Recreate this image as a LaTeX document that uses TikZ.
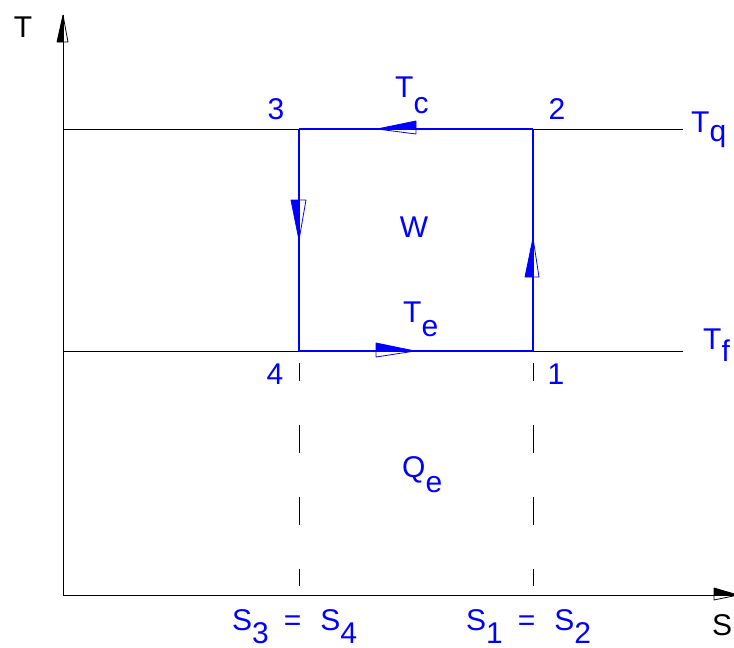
\documentclass[tikz,border=0pt]{standalone}
\usepackage{fontspec}
\setmainfont{Liberation Sans}
\definecolor{cyc}{RGB}{0,0,255}
\newcommand\lowsub[2][14pt]{\raisebox{-#1}{#2}}
\begin{document}
\begin{tikzpicture}[x=1pt,y=-1pt,
  lbl/.style={inner sep=0pt, font=\fontsize{30}{30}\selectfont, text=cyc},
  axlbl/.style={inner sep=0pt, font=\fontsize{30}{30}\selectfont, text=black},
  ax/.style={draw=black, line width=0.9pt},
  cycleln/.style={color=cyc, line width=1.15pt},
  dashln/.style={draw=black, line width=0.9pt, dash pattern=on 28pt off 44pt, dash phase=10pt},
  headline/.style={line width=0.8pt, line join=bevel}]
\useasboundingbox (0,0) rectangle (734,648);
% coordinates
\coordinate (O) at (63,595);
\coordinate (Ytip) at (63,15);
\coordinate (Xtip) at (736,595);
\coordinate (p1) at (533,351);
\coordinate (p2) at (533,129);
\coordinate (p3) at (299,129);
\coordinate (p4) at (299,351);
\coordinate (lq) at (63,129);
\coordinate (rq) at (683,129);
\coordinate (lf) at (63,351);
\coordinate (rf) at (683,351);
\coordinate (d4) at (299,363);
\coordinate (d4e) at (299,586);
\coordinate (d1) at (533,363);
\coordinate (d1e) at (533,586);
% isotherm extensions
\draw[ax] (lq) -- (p3);
\draw[ax] (p2) -- (rq);
\draw[ax] (lf) -- (p4);
\draw[ax] (p1) -- (rf);
% dashed isentropes
\draw[dashln] (d4) -- (d4e);
\draw[dashln] (d1) -- (d1e);
% axes
\draw[ax] (Ytip) -- (O) -- (Xtip);
% cycle
\draw[cycleln] (p1) -- (p2);
\draw[cycleln] (p2) -- (p3);
\draw[cycleln] (p3) -- (p4);
\draw[cycleln] (p4) -- (p1);
% axis arrowheads
\fill[black] (63,15) -- (57,42) -- (63,42) -- cycle;
\draw[black, headline] (63,15) -- (57,42) -- (68,42) -- cycle;
\fill[black] (738,595) -- (714,588) -- (714,595) -- cycle;
\draw[black, headline] (738,595) -- (714,588) -- (714,600) -- cycle;
% cycle arrowheads
\fill[cyc] (377,129) -- (416,121) -- (416,129) -- cycle;
\draw[cyc, headline] (377,129) -- (416,121) -- (416,134) -- cycle;
\fill[cyc] (299,240) -- (291,200) -- (299,200) -- cycle;
\draw[cyc, headline] (299,240) -- (291,200) -- (306,200) -- cycle;
\fill[cyc] (533,238) -- (525,277) -- (533,277) -- cycle;
\draw[cyc, headline] (533,238) -- (525,277) -- (539,277) -- cycle;
\fill[cyc] (415,351) -- (376,343) -- (376,351) -- cycle;
\draw[cyc, headline] (415,351) -- (376,343) -- (376,357) -- cycle;
% labels
\node[axlbl, anchor=base] (Tax) at (23,37) {T};
\node[axlbl, anchor=base west] (Sax) at (712,635) {S};
\node[lbl, anchor=base] (n3) at (276,119) {3};
\node[lbl, anchor=base] (n2) at (557,119) {2};
\node[lbl, anchor=base] (n4) at (275,384) {4};
\node[lbl, anchor=base] (n1) at (556,384) {1};
\node[lbl, anchor=base west] (Tc) at (395,97) {T\lowsub[16pt]{c}};
\node[lbl, anchor=base west] (Tq) at (691,132) {T\lowsub[9pt]{q}};
\node[lbl, anchor=base west] (Te) at (403,322) {T\lowsub[14pt]{e}};
\node[lbl, anchor=base west] (Tf) at (703,349) {T\lowsub[12pt]{f}};
\node[lbl, anchor=base] (W) at (414,237) {W};
\node[lbl, anchor=base west] (Qe) at (402,477) {Q\lowsub[15pt]{e}};
\node[lbl, anchor=base west] (S34) at (232,630) {S\lowsub[13pt]{3}\hspace{15pt}=\hspace{19pt}S\lowsub[13pt]{4}};
\node[lbl, anchor=base west] (S12) at (466,630) {S\lowsub[13pt]{1}\hspace{15pt}=\hspace{19pt}S\lowsub[13pt]{2}};
\end{tikzpicture}
\end{document}
